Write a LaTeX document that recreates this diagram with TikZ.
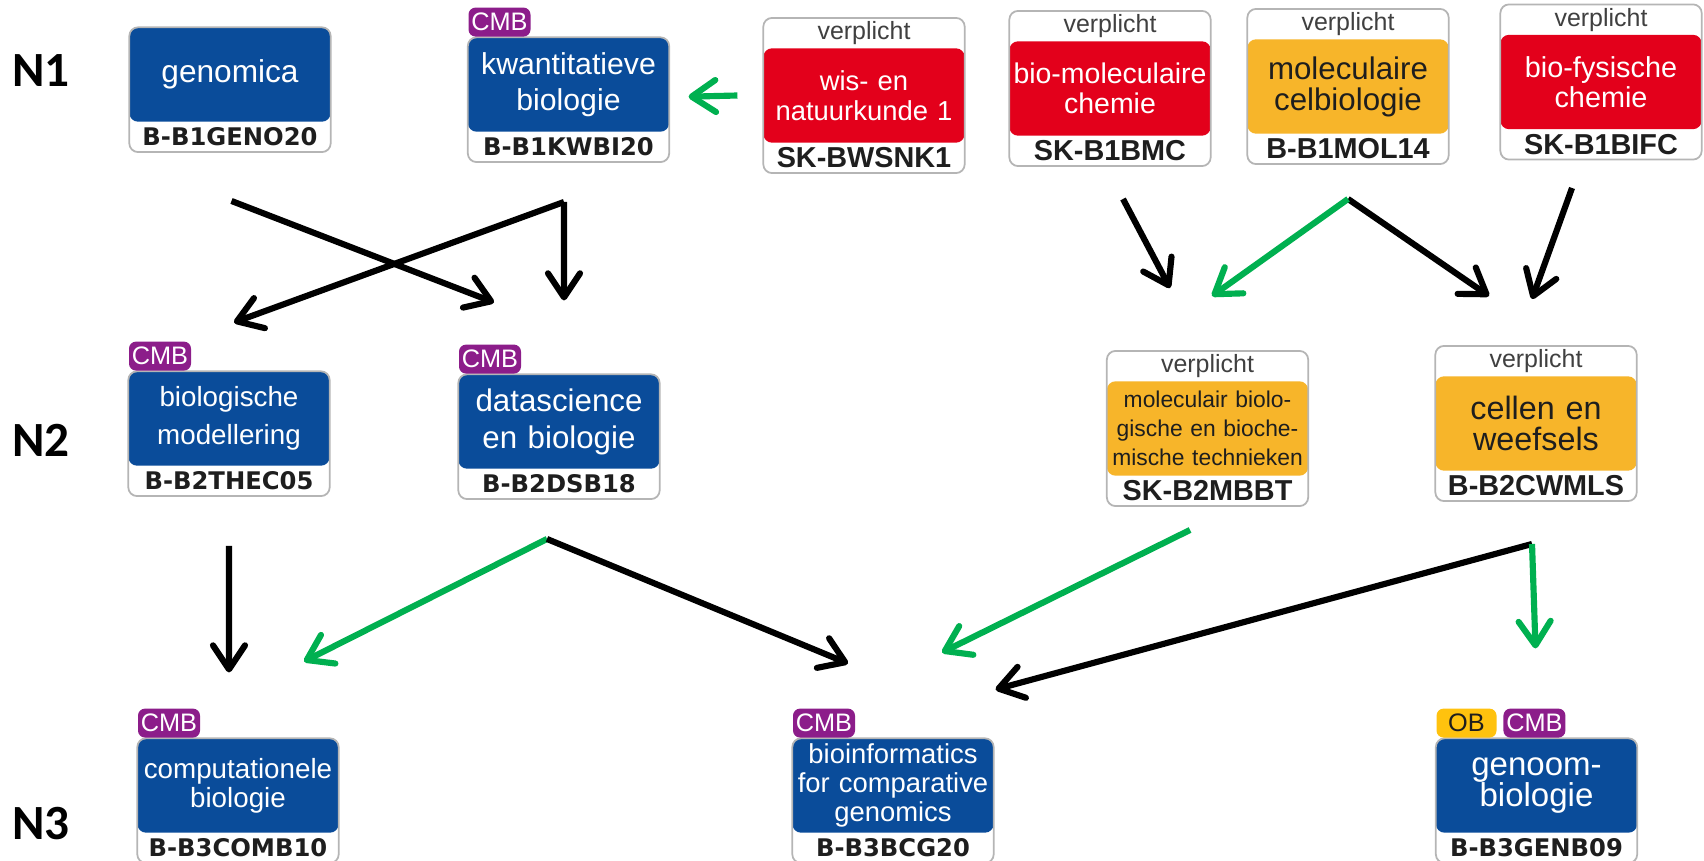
\documentclass[tikz,border=0pt]{standalone}
\usepackage{fontspec}
\setmainfont{Liberation Sans}
\newfontfamily\codefont{DejaVu Sans}
\newfontfamily\lvlfont{Carlito}
\usepackage{tikz}
\usetikzlibrary{positioning,arrows.meta,fit,backgrounds}
\definecolor{ink}{HTML}{1E1E1E}
\definecolor{cblue}{HTML}{0A4C9A}
\definecolor{cred}{HTML}{E3001B}
\definecolor{corange}{HTML}{F7B52A}
\definecolor{cmbpurple}{HTML}{8C1D8A}
\definecolor{obyel}{HTML}{FFC20E}
\definecolor{edge}{HTML}{B5B5B5}
\definecolor{arrgreen}{HTML}{00B050}
\tikzset{
  body/.style={minimum width=2cm,minimum height=0.93cm,text width=1.94cm,inner sep=0pt,align=center},
  bluebody/.style={body,text=white},
  redbody/.style={body,text=white},
  orgbody/.style={body,text=ink},
  topstrip/.style={minimum width=2cm,minimum height=0.29cm,inner sep=0pt,font=\fontsize{7.1}{8}\selectfont,text=ink!85},
  codeblue/.style={minimum width=2cm,minimum height=0.29cm,inner sep=0pt,font=\codefont\bfseries\fontsize{6.9}{8}\selectfont,text=ink},
  codeplain/.style={minimum width=2cm,minimum height=0.29cm,inner sep=0pt,font=\bfseries\fontsize{8.2}{9}\selectfont,text=ink},
  frame/.style 2 args={draw=edge,line width=0.5pt,rounded corners=2.5pt,fill=white,inner sep=0pt,
    path picture={\fill[#1] (#2.north west) rectangle (#2.south east);}},
  tag/.style={fill=cmbpurple,text=white,rounded corners=2pt,minimum width=0.62cm,minimum height=0.29cm,
    inner sep=0pt,font=\fontsize{7.2}{8}\selectfont,anchor=south west},
  obtag/.style={tag,fill=obyel,text=ink,minimum width=0.6cm},
  lvl/.style={font=\lvlfont\bfseries\fontsize{14}{16}\selectfont},
  pre/.style={-{Straight Barb[length=2.4mm,width=3.2mm,round]},line width=1.75pt,draw=black},
  preg/.style={pre,draw=arrgreen},
}

\begin{document}
\begin{tikzpicture}
\useasboundingbox (0,0) rectangle (17.04,8.60);

% ==== level labels ====
\node[lvl] (n1) at (0.41,7.89) {N1};
\node[lvl] (n2) at (0.41,4.20) {N2};
\node[lvl] (n3) at (0.41,0.36) {N3};

% ==== N1 row ====
\node[bluebody,font=\fontsize{9}{10}\selectfont] (geno) at (2.30,7.855) {genomica};
\node[codeblue,below=0pt of geno] (genoC) {B-B1GENO20};
\node[bluebody,font=\fontsize{8.6}{10.2}\selectfont] (kwbi) at (5.685,7.755) {kwantitatieve\\biologie};
\node[codeblue,below=0pt of kwbi] (kwbiC) {B-B1KWBI20};
\node[redbody,font=\fontsize{7.8}{8.6}\selectfont] (wisnk) at (8.64,7.645) {wis- en\\natuurkunde 1};
\node[topstrip,above=0pt of wisnk] (wisnkT) {verplicht};
\node[codeplain,below=0pt of wisnk] (wisnkC) {SK-BWSNK1};
\node[redbody,font=\fontsize{8.1}{8.6}\selectfont] (bmc) at (11.10,7.715) {bio-moleculaire\\chemie};
\node[topstrip,above=0pt of bmc] (bmcT) {verplicht};
\node[codeplain,below=0pt of bmc] (bmcC) {SK-B1BMC};
\node[orgbody,font=\fontsize{8.9}{8.8}\selectfont] (mol) at (13.48,7.735) {moleculaire\\celbiologie};
\node[topstrip,above=0pt of mol] (molT) {verplicht};
\node[codeplain,below=0pt of mol] (molC) {B-B1MOL14};
\node[redbody,font=\fontsize{8.2}{8.6}\selectfont] (bifc) at (16.01,7.78) {bio-fysische\\chemie};
\node[topstrip,above=0pt of bifc] (bifcT) {verplicht};
\node[codeplain,below=0pt of bifc] (bifcC) {SK-B1BIFC};

% ==== N2 row ====
\node[bluebody,font=\fontsize{7.9}{10.8}\selectfont] (thec) at (2.29,4.415) {biologische\\modellering};
\node[codeblue,below=0pt of thec] (thecC) {B-B2THEC05};
\node[bluebody,font=\fontsize{8.9}{10.5}\selectfont] (dsb) at (5.59,4.385) {datascience\\en biologie};
\node[codeblue,below=0pt of dsb] (dsbC) {B-B2DSB18};
\node[orgbody,font=\fontsize{6.5}{8.3}\selectfont] (mbbt) at (12.075,4.315) {moleculair biolo-\\gische en bioche-\\mische technieken};
\node[topstrip,above=0pt of mbbt] (mbbtT) {verplicht};
\node[codeplain,below=0pt of mbbt] (mbbtC) {SK-B2MBBT};
\node[orgbody,font=\fontsize{9.2}{9}\selectfont] (cwmls) at (15.36,4.365) {cellen en\\weefsels};
\node[topstrip,above=0pt of cwmls] (cwmlsT) {verplicht};
\node[codeplain,below=0pt of cwmls] (cwmlsC) {B-B2CWMLS};

% ==== N3 row ====
\node[bluebody,font=\fontsize{7.9}{8.3}\selectfont] (comb) at (2.38,0.745) {computationele\\biologie};
\node[codeblue,below=0pt of comb] (combC) {B-B3COMB10};
\node[bluebody,font=\fontsize{7.8}{8.2}\selectfont] (bcg) at (8.93,0.745) {bioinformatics\\for comparative\\genomics};
\node[codeblue,below=0pt of bcg] (bcgC) {B-B3BCG20};
\node[bluebody,font=\fontsize{9.4}{9}\selectfont] (genb) at (15.365,0.745) {genoom-\\biologie};
\node[codeblue,below=0pt of genb] (genbC) {B-B3GENB09};

% ==== frames ====
\begin{scope}[on background layer]
  \node[frame={cblue}{geno},fit=(geno)(genoC)] (genoF) {};
  \node[frame={cblue}{kwbi},fit=(kwbi)(kwbiC)] (kwbiF) {};
  \node[frame={cred}{wisnk},fit=(wisnkT)(wisnk)(wisnkC)] (wisnkF) {};
  \node[frame={cred}{bmc},fit=(bmcT)(bmc)(bmcC)] (bmcF) {};
  \node[frame={corange}{mol},fit=(molT)(mol)(molC)] (molF) {};
  \node[frame={cred}{bifc},fit=(bifcT)(bifc)(bifcC)] (bifcF) {};
  \node[frame={cblue}{thec},fit=(thec)(thecC)] (thecF) {};
  \node[frame={cblue}{dsb},fit=(dsb)(dsbC)] (dsbF) {};
  \node[frame={corange}{mbbt},fit=(mbbtT)(mbbt)(mbbtC)] (mbbtF) {};
  \node[frame={corange}{cwmls},fit=(cwmlsT)(cwmls)(cwmlsC)] (cwmlsF) {};
  \node[frame={cblue}{comb},fit=(comb)(combC)] (combF) {};
  \node[frame={cblue}{bcg},fit=(bcg)(bcgC)] (bcgF) {};
  \node[frame={cblue}{genb},fit=(genb)(genbC)] (genbF) {};
\end{scope}

% ==== tags ====
\node[tag] (kwbiTag) at (kwbi.north west) {CMB};
\node[tag] (thecTag) at (thec.north west) {CMB};
\node[tag] (dsbTag) at (dsb.north west) {CMB};
\node[tag] (combTag) at (comb.north west) {CMB};
\node[tag] (bcgTag) at (bcg.north west) {CMB};
\node[obtag] (genbOB) at (genb.north west) {OB};
\node[tag,right=0.055cm of genbOB] (genbTag) {CMB};

% ==== N1 -> N2 ====
\draw[pre] ([xshift=0.15mm,yshift=-4.8mm]genoF.south) -- ([xshift=-6.5mm,yshift=7.1mm]dsbF.north);
\draw[pre] ([xshift=-0.45mm,yshift=-3.9mm]kwbiF.south) -- ([xshift=0.5mm,yshift=4.8mm]thecF.north);
\draw[pre] ([xshift=-0.45mm,yshift=-3.9mm]kwbiF.south) -- ([xshift=0.5mm,yshift=7.3mm]dsbF.north);
\draw[preg] ([xshift=-2.5mm]wisnkF.west) -- ([xshift=1.85mm,yshift=0.3mm]kwbiF.east);
\draw[pre] ([xshift=1.3mm,yshift=-3.2mm]bmcF.south) -- ([xshift=-3.75mm,yshift=6.2mm]mbbtF.north);
\draw[pre] ([yshift=-3.4mm]molF.south) -- ([xshift=-4.7mm,yshift=4.9mm]cwmlsF.north);
\draw[preg] ([yshift=-3.4mm]molF.south) -- ([xshift=0.45mm,yshift=5.4mm]mbbtF.north);
\draw[pre] ([xshift=-2.9mm,yshift=-2.75mm]bifcF.south) -- ([xshift=-0.4mm,yshift=4.6mm]cwmlsF.north);

% ==== N2 -> N3 ====
\draw[pre] ([yshift=-4.9mm]thecF.south) -- ([xshift=-0.9mm,yshift=6.5mm]combF.north);
\draw[preg] ([xshift=-1.2mm,yshift=-3.9mm]dsbF.south) -- ([xshift=6.6mm,yshift=7.6mm]combF.north);
\draw[pre] ([xshift=-1.2mm,yshift=-3.9mm]dsbF.south) -- ([xshift=-4.5mm,yshift=7.4mm]bcgF.north);
\draw[preg] ([xshift=-1.75mm,yshift=-2.3mm]mbbtF.south) -- ([xshift=4.9mm,yshift=8.5mm]bcgF.north);
\draw[pre] ([xshift=-0.4mm,yshift=-4.2mm]cwmlsF.south) -- ([xshift=0.1mm,yshift=4.8mm]bcgF.north east);
\draw[preg] ([xshift=-0.4mm,yshift=-4.2mm]cwmlsF.south) -- ([xshift=-0.1mm,yshift=8.9mm]genbF.north);

\end{tikzpicture}
\end{document}
